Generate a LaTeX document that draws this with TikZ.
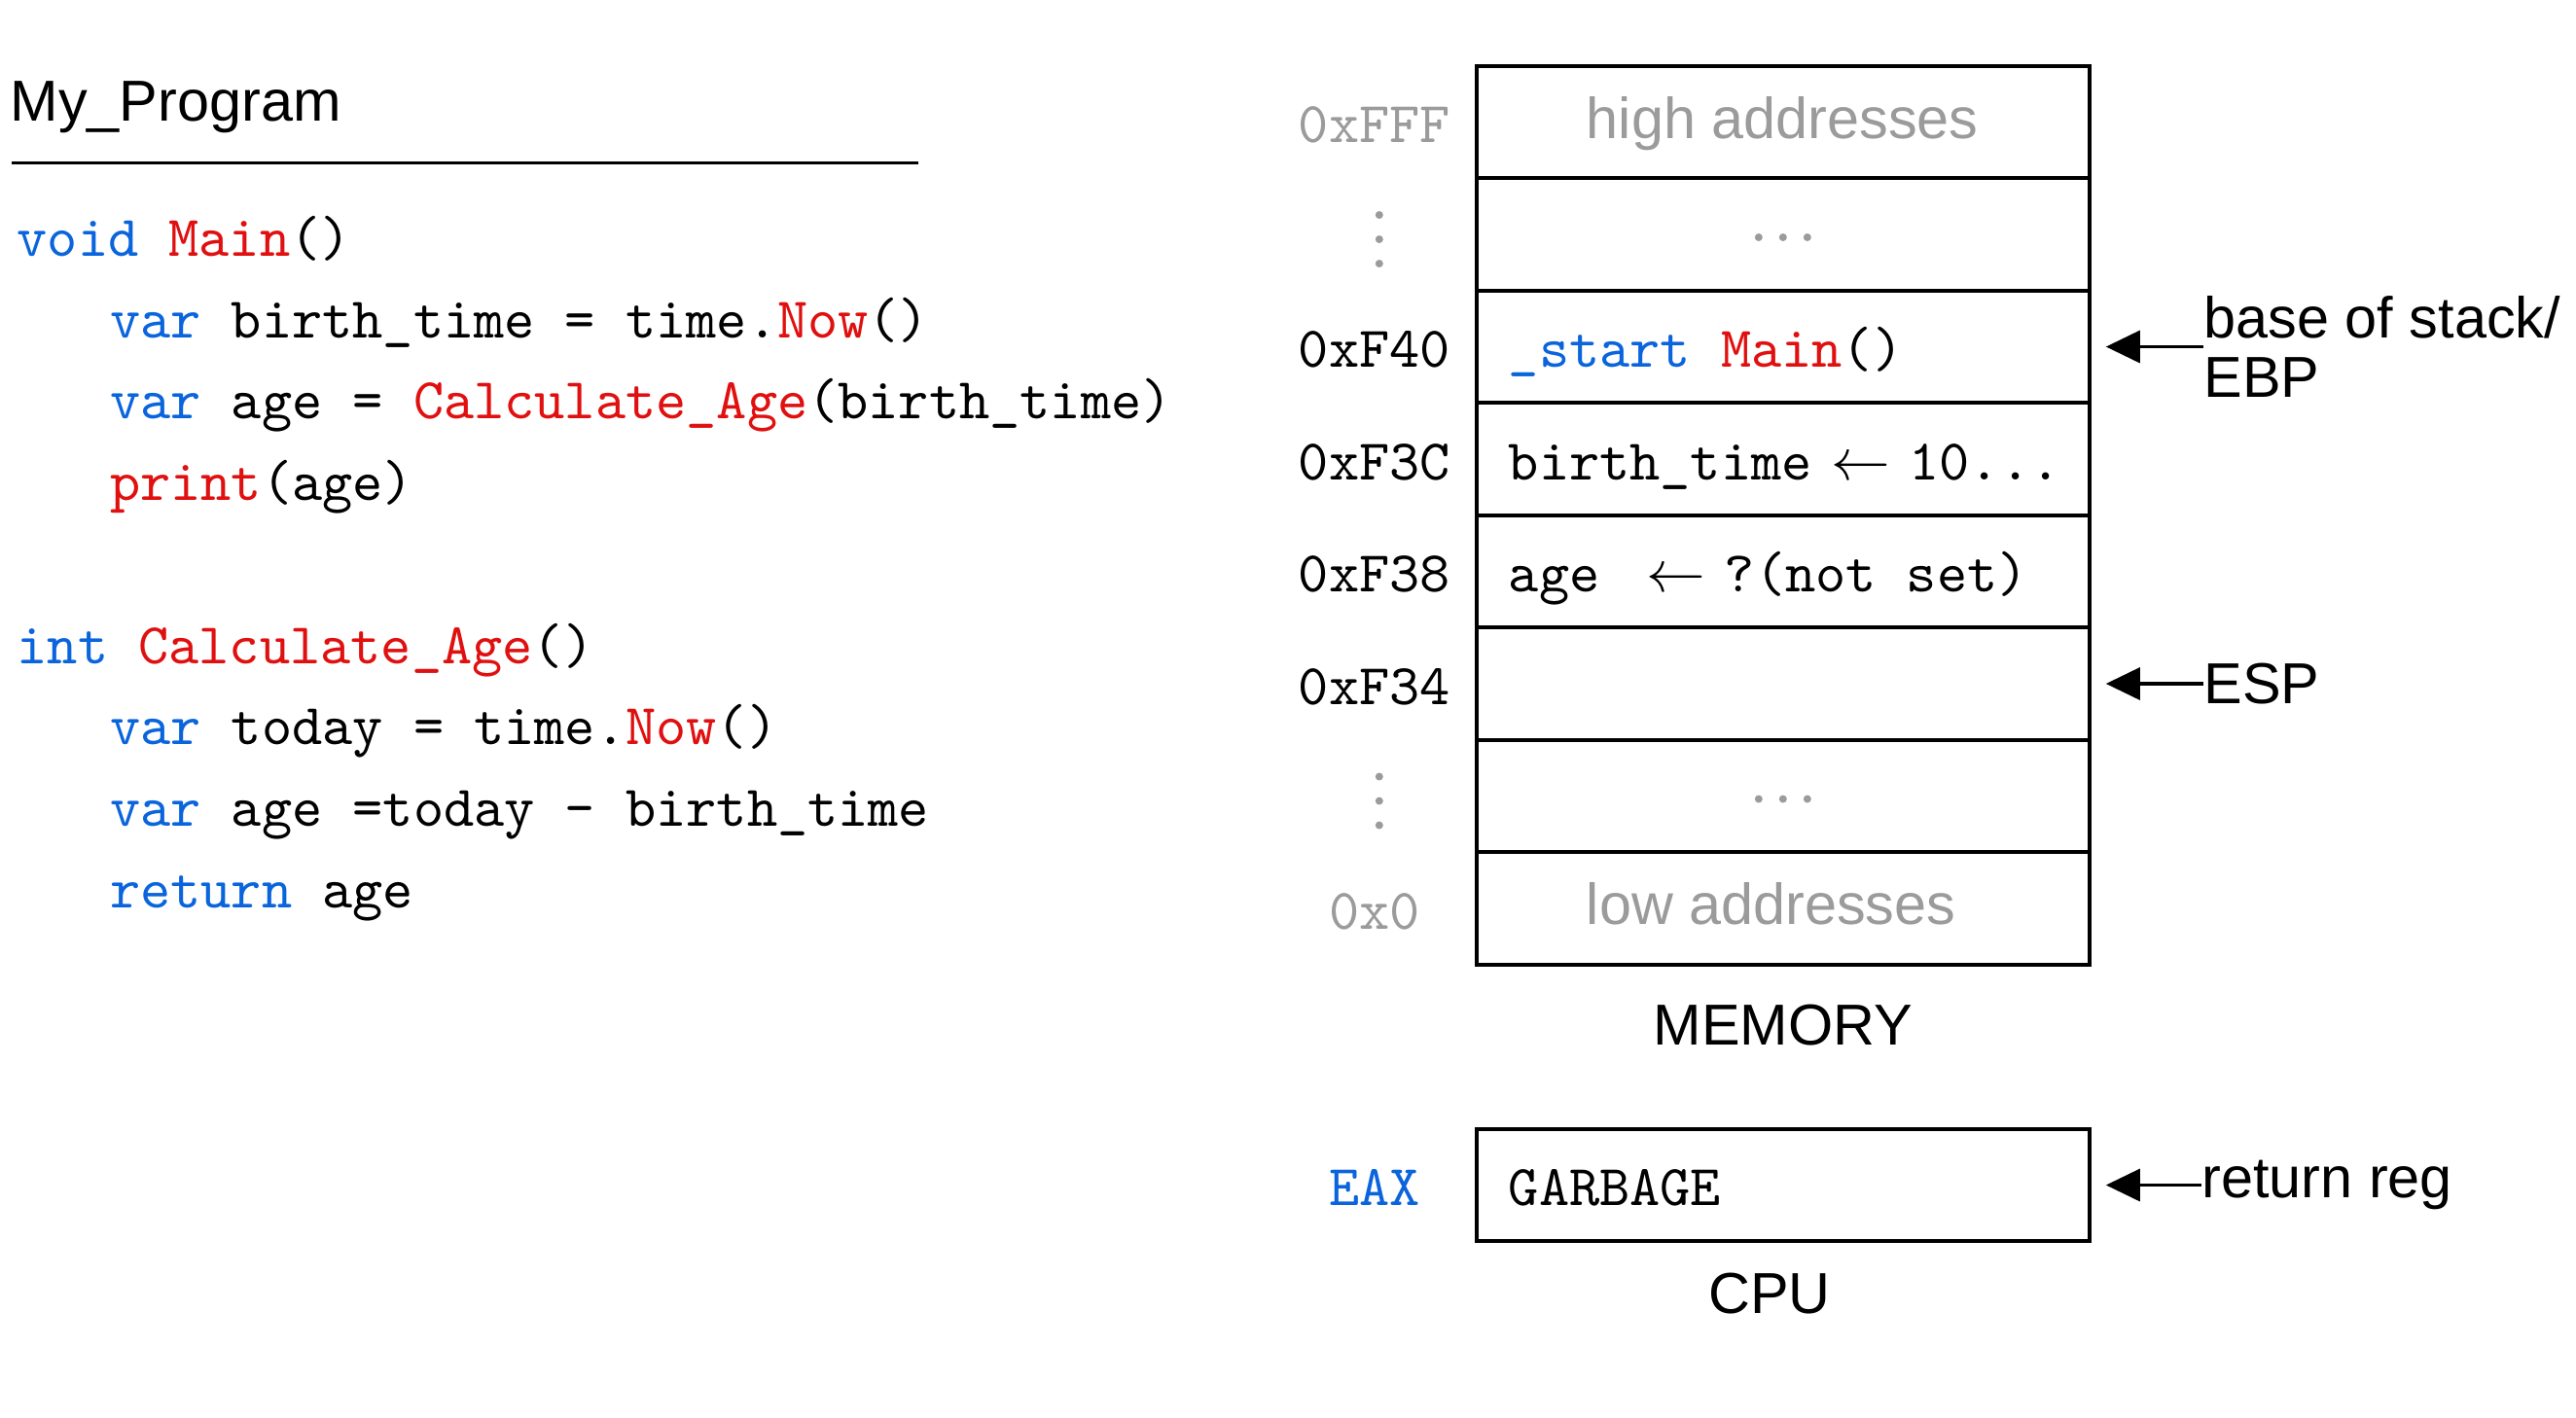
\documentclass[tikz,border=0pt]{standalone}
\usepackage{fontspec}
\setmainfont{Liberation Sans}
\setmonofont{lmmono10-regular.otf}
\usetikzlibrary{arrows.meta, positioning}

\definecolor{kwblue}{RGB}{10,100,220}
\definecolor{fnred}{RGB}{224,16,16}
\definecolor{memgray}{RGB}{155,155,155}
\newcommand\kwd[1]{\textcolor{kwblue}{#1}}
\newcommand\fnc[1]{\textcolor{fnred}{#1}}

\begin{document}
\fontsize{16.9}{17.1}\selectfont
\begin{tikzpicture}
        [
            code/.style={
                font=\ttfamily,
                anchor=base west,
                inner sep=0pt
            },
            cell/.style={
                draw,
                line width=1.1pt,
                outer sep=0pt,
                inner ysep=0pt,
                inner xsep=0.33cm,
                text width=5.64cm,
                minimum height=1.155cm,
                text height=0.71em,
                text depth=0pt,
                align=flush left,
                font=\ttfamily
            },
            endcell/.style={
                cell,
                font=\rmfamily,
                text=memgray,
                inner xsep=1.13cm,
                text width=4.04cm,
                text height=0.56em
            },
            addr/.style={
                font=\ttfamily,
                inner sep=0pt,
                text height=0.71em,
                text depth=0pt
            },
            note/.style={
                inner sep=0pt,
                align=left
            },
            ptr/.style={
                -{Triangle[length=0.35cm, width=0.33cm]},
                line width=1pt,
                shorten >=0.17cm
            }
        ]
        \useasboundingbox (0,0) rectangle (26.48,-14.57);

        % program listing
        \node[code, font=\rmfamily] (title) at (0.10,-1.24) {My\_Program};
        \draw[line width=1pt] (0.12,-1.677) -- (9.44,-1.677);
        \node[code] (l1) at (0.17,-2.633) {\kwd{void} \fnc{Main}()};
        \node[code] (l2) at (1.125,-3.4705) {\kwd{var} birth\_time = time.\fnc{Now}()};
        \node[code] (l3) at (1.125,-4.308) {\kwd{var} age = \fnc{Calculate\_Age}(birth\_time)};
        \node[code] (l4) at (1.125,-5.1455) {\fnc{print}(age)};
        \node[code] (l5) at (0.17,-6.8205) {\kwd{int} \fnc{Calculate\_Age}()};
        \node[code] (l6) at (1.125,-7.658) {\kwd{var} today = time.\fnc{Now}()};
        \node[code] (l7) at (1.125,-8.4955) {\kwd{var} age =today - birth\_time};
        \node[code] (l8) at (1.125,-9.333) {\kwd{return} age};

        % memory
        \node[endcell] (c1) at (18.328,-1.255) {\mbox{high addresses}};
        \node[cell, below=0pt of c1] (c2) {};
        \node[cell, below=0pt of c2] (c3) {\mbox{\kwd{\_start} \fnc{Main}()}};
        \node[cell, below=0pt of c3] (c4) {\mbox{birth\_time\hspace{.33em}$\leftarrow$\hspace{.33em}10...}};
        \node[cell, below=0pt of c4] (c5) {\mbox{age\hspace{.81em}$\leftarrow$\hspace{.33em}?(not set)}};
        \node[cell, below=0pt of c5] (c6) {};
        \node[cell, below=0pt of c6] (c7) {};
        \node[endcell, below=0pt of c7] (c8) {\mbox{low addresses}};
        \foreach \row in {c2, c7} {
            \foreach \d in {-0.25, 0, 0.25} {
                \fill[memgray] ([xshift=\d cm, yshift=-0.03cm]\row.center) circle (0.04);
                \fill[memgray] ([xshift=-1.0cm, yshift=\d cm - 0.05cm]\row.west) circle (0.04);
            }
        }
        \node[addr, text=memgray] (a1) at ([xshift=-1.05cm]c1.west) {0xFFF};
        \node[addr] (a3) at ([xshift=-1.05cm]c3.west) {0xF40};
        \node[addr] (a4) at ([xshift=-1.05cm]c4.west) {0xF3C};
        \node[addr] (a5) at ([xshift=-1.05cm]c5.west) {0xF38};
        \node[addr] (a6) at ([xshift=-1.05cm]c6.west) {0xF34};
        \node[addr, text=memgray] (a8) at ([xshift=-1.05cm]c8.west) {0x0};
        \node[inner sep=0pt, below=0.41cm of c8] (mem) {MEMORY};

        % cpu
        \node[cell, below=1.69cm of c8] (reg) {GARBAGE};
        \node[addr, text=kwblue] (eax) at ([xshift=-1.05cm]reg.west) {EAX};
        \node[inner sep=0pt, below=0.32cm of reg, xshift=-0.14cm] (cpu) {CPU};

        % pointers
        \node[note, right=1.17cm of c3] (ebp) {base of stack/\\EBP};
        \node[note, right=1.17cm of c6] (esp) {ESP};
        \node[note, right=1.15cm of reg] (ret) {return reg};
        \draw[ptr] (ebp.west) -- (c3.east);
        \draw[ptr] (esp.west) -- (c6.east);
        \draw[ptr] (ret.west) -- (reg.east);
    \end{tikzpicture}
\end{document}
